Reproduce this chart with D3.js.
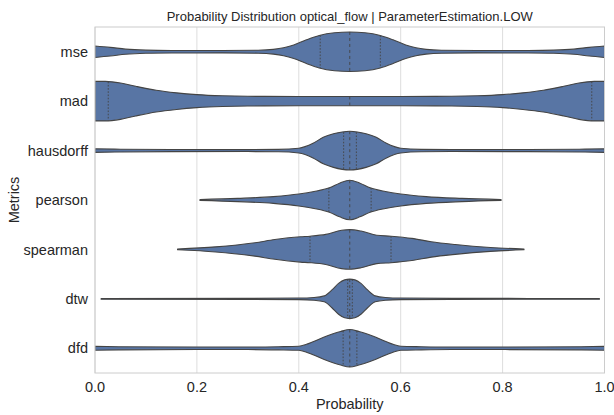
<!DOCTYPE html>
<html>
<head>
<meta charset="utf-8">
<script src="https://cdn.jsdelivr.net/npm/d3@7"></script>
<style>
  body { margin: 0; background: #fff; }
  text { font-family: "Liberation Sans", Arial, sans-serif; fill: #262626; }
</style>
</head>
<body>
<div id="chart"></div>
<script>
var svgWidth = 614;
var svgHeight = 415;

var metrics = ["mse", "mad", "hausdorff", "pearson", "spearman", "dtw", "dfd"];
var xTicks = [0, 0.2, 0.4, 0.6, 0.8, 1.0];

// density outline: [probability, relative half width]
var mseDensity = [[0,0.29],[0.03,0.22],[0.06,0.13],[0.1,0.08],[0.15,0.065],[0.25,0.06],[0.32,0.075],[0.35,0.12],[0.37,0.2],[0.39,0.34],[0.415,0.6],[0.44,0.82],[0.47,0.96],[0.5,1.0],[0.53,0.96],[0.56,0.82],[0.585,0.6],[0.61,0.34],[0.63,0.2],[0.65,0.12],[0.68,0.075],[0.75,0.06],[0.85,0.065],[0.9,0.08],[0.94,0.13],[0.97,0.22],[1,0.29]];
var madDensity = [[0,1.0],[0.02,1.0],[0.05,0.92],[0.08,0.75],[0.12,0.55],[0.16,0.42],[0.2,0.33],[0.25,0.27],[0.3,0.245],[0.4,0.235],[0.5,0.235],[0.6,0.235],[0.7,0.245],[0.75,0.27],[0.8,0.33],[0.84,0.42],[0.88,0.55],[0.92,0.75],[0.95,0.92],[0.98,1.0],[1,1.0]];
var hausdorffDensity = [[0,0.09],[0.05,0.07],[0.15,0.055],[0.3,0.05],[0.36,0.06],[0.4,0.12],[0.428,0.37],[0.448,0.67],[0.468,0.85],[0.5,0.98],[0.532,0.85],[0.552,0.67],[0.572,0.37],[0.6,0.12],[0.64,0.06],[0.7,0.05],[0.85,0.055],[0.95,0.07],[1,0.09]];
var pearsonDensity = [[0.206,0.02],[0.28,0.08],[0.35,0.17],[0.4,0.3],[0.43,0.43],[0.46,0.62],[0.48,0.85],[0.5,1.0],[0.52,0.85],[0.54,0.62],[0.57,0.43],[0.6,0.3],[0.65,0.17],[0.72,0.08],[0.797,0.02]];
var spearmanDensity = [[0.162,0.02],[0.237,0.13],[0.314,0.34],[0.353,0.5],[0.403,0.64],[0.422,0.67],[0.453,0.76],[0.484,0.97],[0.5,1.0],[0.522,0.93],[0.553,0.72],[0.581,0.67],[0.622,0.56],[0.66,0.39],[0.707,0.25],[0.776,0.1],[0.842,0.02]];
var dtwDensity = [[0.012,0.02],[0.3,0.025],[0.4,0.04],[0.43,0.07],[0.45,0.15],[0.465,0.45],[0.478,0.78],[0.49,0.96],[0.5,1.0],[0.51,0.96],[0.522,0.78],[0.535,0.45],[0.55,0.15],[0.57,0.07],[0.6,0.04],[0.7,0.025],[0.99,0.02]];
var dfdDensity = [[0,0.1],[0.05,0.08],[0.2,0.065],[0.3,0.065],[0.36,0.08],[0.4,0.1],[0.415,0.2],[0.428,0.33],[0.455,0.62],[0.482,0.85],[0.5,0.95],[0.518,0.85],[0.545,0.62],[0.572,0.33],[0.585,0.2],[0.6,0.1],[0.64,0.08],[0.7,0.065],[0.8,0.065],[0.95,0.08],[1,0.1]];

// q1, median, q3
var mseQuartiles = [0.442, 0.5, 0.56];
var madQuartiles = [0.026, 0.5, 0.975];
var hausdorffQuartiles = [0.488, 0.5, 0.513];
var pearsonQuartiles = [0.459, 0.5, 0.542];
var spearmanQuartiles = [0.422, 0.5, 0.581];
var dtwQuartiles = [0.496, 0.5, 0.505];
var dfdQuartiles = [0.487, 0.5, 0.514];

var densities = [mseDensity, madDensity, hausdorffDensity, pearsonDensity, spearmanDensity, dtwDensity, dfdDensity];
var quartiles = [mseQuartiles, madQuartiles, hausdorffQuartiles, pearsonQuartiles, spearmanQuartiles, dtwQuartiles, dfdQuartiles];

var margin = {top: 27, right: 10, bottom: 42, left: 95};
var fillColor = "#5875a4";
var lineColor = "#444444";

var svg = d3.select("#chart")
    .append("svg")
    .attr("width", svgWidth)
    .attr("height", svgHeight);

var xScale = d3.scaleLinear()
    .domain([0, 1]).range([margin.left, svgWidth - margin.right + 0.5]);

var yScale = d3.scaleBand()
    .domain(metrics).range([margin.top, svgHeight - margin.bottom]).padding(0);

var wScale = d3.scaleLinear()
    .domain([0, 1]).range([0, yScale.bandwidth() * 0.4]);

// vertical grid
svg.append("g")
    .selectAll("line")
    .data(xTicks)
    .enter()
    .append("line")
    .attr("x1", function(d) { return xScale(d); })
    .attr("x2", function(d) { return xScale(d); })
    .attr("y1", margin.top)
    .attr("y2", svgHeight - margin.bottom)
    .attr("stroke", "#dddddd")
    .attr("stroke-width", 1);

svg.append("clipPath").attr("id", "plotclip")
    .append("rect")
    .attr("x", xScale(0)).attr("y", margin.top)
    .attr("width", xScale(1) - xScale(0))
    .attr("height", svgHeight - margin.bottom - margin.top);

function halfWidth(dens, p) {
    var px = dens.map(function(d) { return d[0]; });
    var i = d3.bisectLeft(px, p);
    if (i <= 0) return dens[0][1];
    if (i >= dens.length) return dens[dens.length - 1][1];
    var a = dens[i - 1], b = dens[i];
    var t = (p - a[0]) / (b[0] - a[0]);
    return a[1] + t * (b[1] - a[1]);
}

var plot = svg.append("g").attr("clip-path", "url(#plotclip)");

metrics.forEach(function(m, i) {
    var cy = yScale(m) + yScale.bandwidth() / 2;
    var dens = densities[i];

    var area = d3.area()
        .x(function(d) { return xScale(d[0]); })
        .y0(function(d) { return cy - wScale(d[1]); })
        .y1(function(d) { return cy + wScale(d[1]); })
        .curve(d3.curveMonotoneX);

    plot.append("path")
        .datum(dens)
        .attr("d", area)
        .attr("fill", fillColor)
        .attr("stroke", lineColor)
        .attr("stroke-width", 1.1)
        .attr("stroke-linejoin", "round");

    plot.selectAll(".q" + i)
        .data(quartiles[i])
        .enter()
        .append("line")
        .attr("x1", function(d) { return xScale(d); })
        .attr("x2", function(d) { return xScale(d); })
        .attr("y1", function(d) { return cy - wScale(halfWidth(dens, d)); })
        .attr("y2", function(d) { return cy + wScale(halfWidth(dens, d)); })
        .attr("stroke", lineColor)
        .attr("stroke-width", 0.9)
        .attr("stroke-dasharray", function(d, j) { return j == 1 ? "3,3" : "1.6,1.6"; });
});

// frame
svg.append("rect")
    .attr("x", xScale(0)).attr("y", margin.top)
    .attr("width", xScale(1) - xScale(0))
    .attr("height", svgHeight - margin.bottom - margin.top)
    .attr("fill", "none")
    .attr("stroke", "#cccccc")
    .attr("stroke-width", 1);

// x tick labels
svg.append("g")
    .selectAll("text")
    .data(xTicks)
    .enter()
    .append("text")
    .attr("x", function(d) { return xScale(d); })
    .attr("y", svgHeight - margin.bottom + 19)
    .attr("text-anchor", "middle")
    .attr("font-size", 14.5)
    .text(function(d) { return d3.format(".1f")(d); });

// y tick labels
svg.append("g")
    .selectAll("text")
    .data(metrics)
    .enter()
    .append("text")
    .attr("x", margin.left - 7)
    .attr("y", function(d) { return yScale(d) + yScale.bandwidth() / 2; })
    .attr("dy", "0.35em")
    .attr("text-anchor", "end")
    .attr("font-size", 14.5)
    .text(function(d) { return d; });

svg.append("text")
    .attr("x", (xScale(0) + xScale(1)) / 2)
    .attr("y", svgHeight - 6)
    .attr("text-anchor", "middle")
    .attr("font-size", 14.5)
    .text("Probability");

svg.append("text")
    .attr("transform", "translate(19," + ((margin.top + svgHeight - margin.bottom) / 2) + ") rotate(-90)")
    .attr("text-anchor", "middle")
    .attr("font-size", 14.5)
    .text("Metrics");

svg.append("text")
    .attr("x", (xScale(0) + xScale(1)) / 2)
    .attr("y", 21)
    .attr("text-anchor", "middle")
    .attr("font-size", 13)
    .text("Probability Distribution optical_flow | ParameterEstimation.LOW");
</script>
</body>
</html>
